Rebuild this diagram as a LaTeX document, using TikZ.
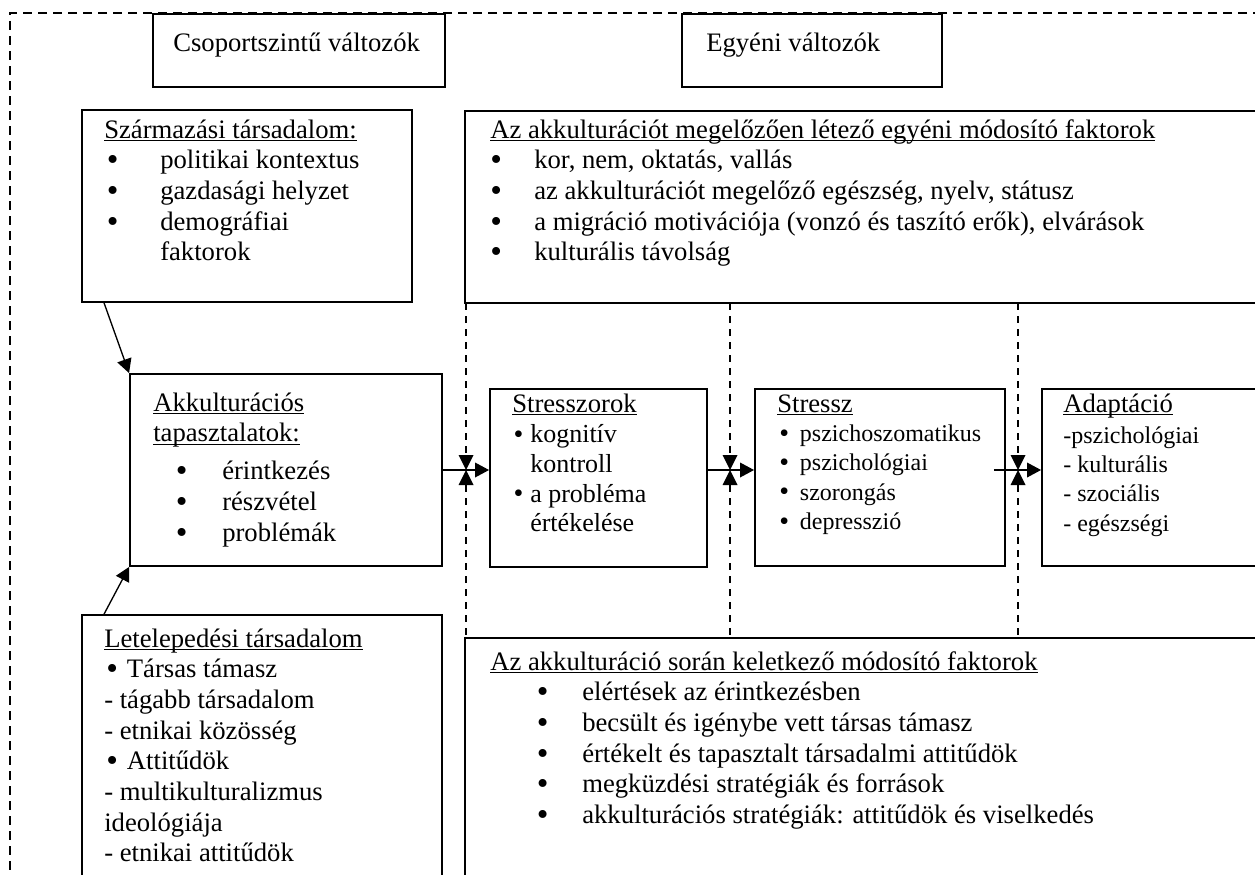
\documentclass[tikz,border=0pt]{standalone}
\usepackage{fontspec}
\setmainfont{Liberation Serif}
\usetikzlibrary{arrows.meta,fit,calc}
\newsavebox\ulnbox
\newcommand\uln[1]{\sbox\ulnbox{#1}\rlap{\rule[-2.6pt]{\wd\ulnbox}{1pt}}\usebox\ulnbox}
\newcommand\bdot{\raisebox{-1.6pt}{\fontsize{25}{25}\selectfont\textbullet}}
\newcommand\sdot{\raisebox{-0.6pt}{\fontsize{21}{21}\selectfont\textbullet}}
\newcommand\bul[2]{\makebox[#2][l]{\hspace*{#1}\bdot}}
\newcommand\sbul[2]{\makebox[#2][l]{\hspace*{#1}\sdot}}
\newcommand\ttl{\fontsize{20}{22}\selectfont}
\begin{document}
\begin{tikzpicture}[x=0.75pt,y=-0.75pt,
  box/.style={draw, line width=1.4pt, inner sep=0pt},
  txt/.style={anchor=base west, inner sep=0pt, font=\fontsize{20}{23}\selectfont},
  small/.style={anchor=base west, inner sep=0pt, font=\fontsize{18}{22}\selectfont},
  mid/.style={anchor=base west, inner sep=0pt, font=\fontsize{19.5}{22.2}\selectfont},
  outer/.style={dash pattern=on 6.75pt off 4.5pt, line width=1.4pt},
  vdash/.style={dash pattern=on 5.25pt off 4.5pt, line width=1pt},
  arr/.style={-{Triangle[length=10.5pt,width=11pt]}, line width=1pt},
  tri/.style={fill=black, draw=none}]
\useasboundingbox (0,0) rectangle (1255,874);
% outer dashed frame
\draw[outer] (1262,13) -- (10,13) -- (10,880);
% boxes
\node[box, fit={(153,14) (445,87)}] (hA) {};
\node[box, fit={(682,14) (942,87)}] (hB) {};
\node[box, fit={(82,110) (412,302)}] (C) {};
\node[box, fit={(130,374) (442,566)}] (D) {};
\node[box, fit={(82,615) (442,885)}] (E) {};
\node[box, fit={(465,111) (1265,303)}] (F) {};
\node[box, fit={(465,638) (1265,885)}] (G) {};
\node[box, fit={(490,389) (707,567)}] (H) {};
\node[box, fit={(755,389) (1005,566)}] (I) {};
\node[box, fit={(1042,389) (1265,566)}] (J) {};
% texts
\node[txt] (tA) at (173,51) {Csoportszintű változók};
\node[txt] (tB) at (706,51) {Egyéni változók};
\node[txt] (tC) at (104,138) {\begin{tabular}[t]{@{}l@{}}
\uln{Származási társadalom:}\\
\bul{2pt}{42pt}politikai kontextus\\
\bul{2pt}{42pt}gazdasági helyzet\\
\bul{2pt}{42pt}demográfiai\\
\hspace*{42pt}faktorok
\end{tabular}};
\node[txt] (tD) at (153,411) {\begin{tabular}[t]{@{}l@{}}
\uln{Akkulturációs}\\
\uln{tapasztalatok:}\\[5.6pt]
\bul{17pt}{51.75pt}érintkezés\\
\bul{17pt}{51.75pt}részvétel\\
\bul{17pt}{51.75pt}problémák
\end{tabular}};
\node[txt] (tE) at (104,647) {\begin{tabular}[t]{@{}l@{}}
\uln{Letelepedési társadalom}\\
\bul{1.5pt}{17pt}Társas támasz\\
- tágabb társadalom\\
- etnikai közösség\\
\bul{1.5pt}{17pt}Attitűdök\\
- multikulturalizmus\\
ideológiája\\
- etnikai attitűdök
\end{tabular}};
\node[txt] (tF) at (490,138) {\begin{tabular}[t]{@{}l@{}}
\uln{Az akkulturációt megelőzően létező egyéni módosító faktorok}\\
\bul{0pt}{33pt}kor, nem, oktatás, vallás\\
\bul{0pt}{33pt}az akkulturációt megelőző egészség, nyelv, státusz\\
\bul{0pt}{33pt}a migráció motivációja (vonzó és taszító erők), elvárások\\
\bul{0pt}{33pt}kulturális távolság
\end{tabular}};
\node[txt] (tG) at (490,670) {\begin{tabular}[t]{@{}l@{}}
\uln{Az akkulturáció során keletkező módosító faktorok}\\
\bul{35pt}{69pt}elértések az érintkezésben\\
\bul{35pt}{69pt}becsült és igénybe vett társas támasz\\
\bul{35pt}{69pt}értékelt és tapasztalt társadalmi attitűdök\\
\bul{35pt}{69pt}megküzdési stratégiák és források\\
\bul{35pt}{69pt}akkulturációs stratégiák: attitűdök és viselkedés
\end{tabular}};
\node[mid] (tH) at (512,412) {\begin{tabular}[t]{@{}l@{}}
{\ttl\uln{Stresszorok}}\\[1pt]
\sbul{1pt}{13.5pt}kognitív\\
\hspace*{13.5pt}kontroll\\
\sbul{1pt}{13.5pt}a probléma\\
\hspace*{13.5pt}értékelése
\end{tabular}};
\node[small] (tI) at (777,412) {\begin{tabular}[t]{@{}l@{}}
{\ttl\uln{Stressz}}\\
\sbul{1.5pt}{17pt}pszichoszomatikus\\
\sbul{1.5pt}{17pt}pszichológiai\\
\sbul{1.5pt}{17pt}szorongás\\
\sbul{1.5pt}{17pt}depresszió
\end{tabular}};
\node[small] (tJ) at (1063,412) {\begin{tabular}[t]{@{}l@{}}
{\ttl\uln{Adaptáció}}\\[1.3pt]
-pszichológiai\\
- kulturális\\
- szociális\\
- egészségi
\end{tabular}};
% dashed dividers
\coordinate (d1t) at (466,303); \coordinate (d1b) at (466,638);
\coordinate (d2t) at (730,303); \coordinate (d2b) at (730,638);
\coordinate (d3t) at (1018,303); \coordinate (d3b) at (1018,638);
\draw[vdash] (d1t) -- (d1b);
\draw[vdash] (d2t) -- (d2b);
\draw[vdash] (d3t) -- (d3b);
% horizontal arrows
\draw[arr] (D.east) -- (D.east -| H.west);
\draw[arr] (H.east |- D.east) -- (I.west |- D.east);
\draw[arr] ($(I.east |- D.east)+(-12,0)$) -- (J.west |- D.east);
% triangle markers
\foreach \xx in {466,730,1018}{
  \fill[tri] (\xx-7.5,455) -- (\xx+7.5,455) -- (\xx,470) -- cycle;
  \fill[tri] (\xx-7.5,485) -- (\xx+7.5,485) -- (\xx,470) -- cycle;
}
% diagonal arrows
\draw[arr] ($(C.south west)+(23,0)$) -- (D.north west);
\draw[arr] ($(E.north west)+(23,0)$) -- (D.south west);
\end{tikzpicture}
\end{document}
